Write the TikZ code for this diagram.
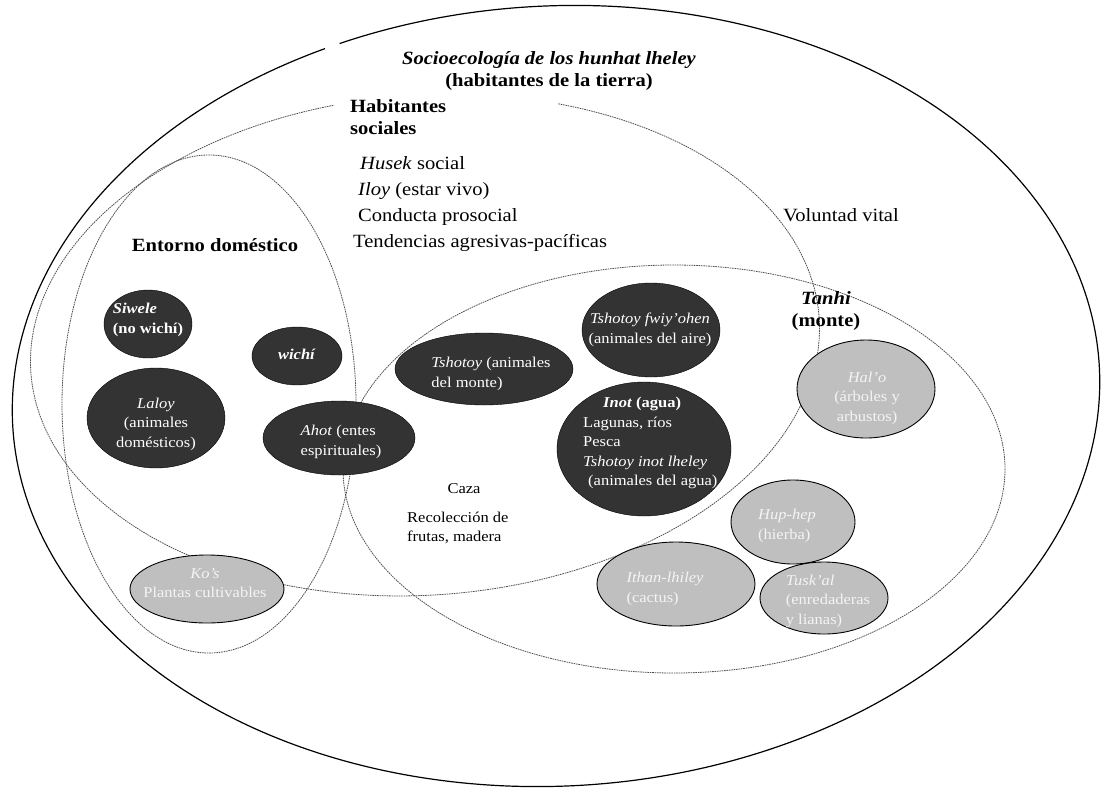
\documentclass[tikz,border=0pt]{standalone}
\usepackage{fontspec}
\setmainfont{Liberation Serif}[FakeStretch=1.1]
\usetikzlibrary{shapes.geometric}
\definecolor{Dark}{HTML}{333333}
\definecolor{Pale}{HTML}{BFBFBF}
\definecolor{PaleTxt}{HTML}{F4F4F4}
\definecolor{Ring}{HTML}{505050}
\newcommand\lgf{\fontsize{18.7}{22}\selectfont}
\newcommand\smf{\fontsize{15}{19.5}\selectfont}

\begin{document}
\begin{tikzpicture}[x=1pt,y=-1pt,
    rg/.style={draw=Ring,line width=0.8pt,dash pattern=on 1.6pt off 0.8pt},
    dk/.style={ellipse,draw=black,fill=Dark,inner sep=0pt},
    lt/.style={ellipse,draw=black,line width=0.9pt,fill=Pale,inner sep=0pt},
    wt/.style={text=white,font=\smf,align=center,inner sep=0pt},
    gt/.style={text=PaleTxt,font=\smf,align=center,inner sep=0pt},
    t/.style={font=\lgf,align=left,inner sep=0pt}]
  \useasboundingbox (0,0) rectangle (1111,790);
  % rings
  \begin{scope}[shift={(556,396)},rotate=3]
    \draw[line width=1.2pt] (-111.3:544 and 390) arc[start angle=-111.3,end angle=247,x radius=544,y radius=390];
  \end{scope}
  \begin{scope}[shift={(425,345)},rotate=4]
    \draw[rg] (-67.7:395 and 250) arc[start angle=-67.7,end angle=259.2,x radius=395,y radius=250];
  \end{scope}
  \draw[rg] (209,404) ellipse[x radius=147,y radius=249];
  \draw[rg] (674,469) ellipse[x radius=331,y radius=204];
  % dark ellipses
  \node[dk,minimum width=88,minimum height=68] (siw) at (148,324) {};
  \node[dk,minimum width=90,minimum height=58] (wic) at (297,356) {};
  \node[dk,minimum width=138,minimum height=100] (lal) at (156,418) {};
  \node[dk,minimum width=152,minimum height=74] (aho) at (339,438) {};
  \node[dk,minimum width=178,minimum height=72] (tsh) at (484,369) {};
  \node[dk,minimum width=138,minimum height=94] (air) at (651,330) {};
  \node[dk,minimum width=174,minimum height=134] (ino) at (644,449) {};
  \node[wt,font=\smf\bfseries,align=left] (siwT) at (148,320) {\textit{Siwele}\\(no wichí)};
  \node[wt,font=\smf\bfseries] (wicT) at (297,354) {\textit{wichí}};
  \node[wt] (lalT) at (156,424) {\textit{Laloy}\\(animales\\domésticos)};
  \node[wt,align=left] (ahoT) at (341,442) {\textit{Ahot} (entes\\espirituales)};
  \node[wt,align=left] (tshT) at (491,374) {\textit{Tshotoy} (animales\\del monte)};
  \node[wt] (airT) at (650,330) {\textit{Tshotoy fwiy’ohen}\\(animales del aire)};
  \node[wt,align=left,anchor=west] (inoT) at (583,443) {\hspace*{20pt}\textbf{\textit{Inot} (agua)}\\Lagunas, ríos\\Pesca\\\textit{Tshotoy inot lheley}\\\hspace*{5pt}(animales del agua)};
  % pale ellipses
  \node[lt,minimum width=138,minimum height=98] (hal) at (866,389) {};
  \node[lt,minimum width=124,minimum height=84] (hup) at (793,522) {};
  \node[lt,minimum width=158,minimum height=84] (ith) at (676,584) {};
  \node[lt,minimum width=128,minimum height=72] (tus) at (824,598) {};
  \node[lt,minimum width=154,minimum height=68] (kos) at (207,589) {};
  \node[gt] (halT) at (867,398) {\textit{Hal’o}\\(árboles y\\arbustos)};
  \node[gt,align=left] (hupT) at (787,526) {\textit{Hup-hep}\\(hierba)};
  \node[gt,align=left] (ithT) at (665,589) {\textit{Ithan-lhiley}\\(cactus)};
  \node[gt,align=left] (tusT) at (828,601) {\textit{Tusk’al}\\(enredaderas\\y lianas)};
  \node[gt] (kosT) at (205,583) {\textit{Ko’s}\\Plantas cultivables};
  % labels
  \node[t,font=\lgf\bfseries,align=center] (ttl) at (549,71) {\textit{Socioecología de los hunhat lheley}\\(habitantes de la tierra)};
  \node[t,font=\lgf\bfseries,anchor=west] (hab) at (350,117) {Habitantes\\sociales};
  \node[t,font=\fontsize{18.7}{26}\selectfont,anchor=west] (soc) at (353,204) {\hspace*{7pt}\textit{Husek} social\\\hspace*{5pt}\textit{Iloy} (estar vivo)\\\hspace*{5pt}Conducta prosocial\\Tendencias agresivas-pacíficas};
  \node[t,font=\lgf\bfseries] (dom) at (215,245) {Entorno doméstico};
  \node[t] (vol) at (841,215) {Voluntad vital};
  \node[t,font=\lgf\bfseries,align=center] (tan) at (826,311) {\textit{Tanhi}\\(monte)};
  \node[t,font=\smf] (caza) at (464,489) {Caza};
  \node[t,font=\smf,anchor=west] (rec) at (407,528) {Recolección de\\frutas, madera};
\end{tikzpicture}
\end{document}
